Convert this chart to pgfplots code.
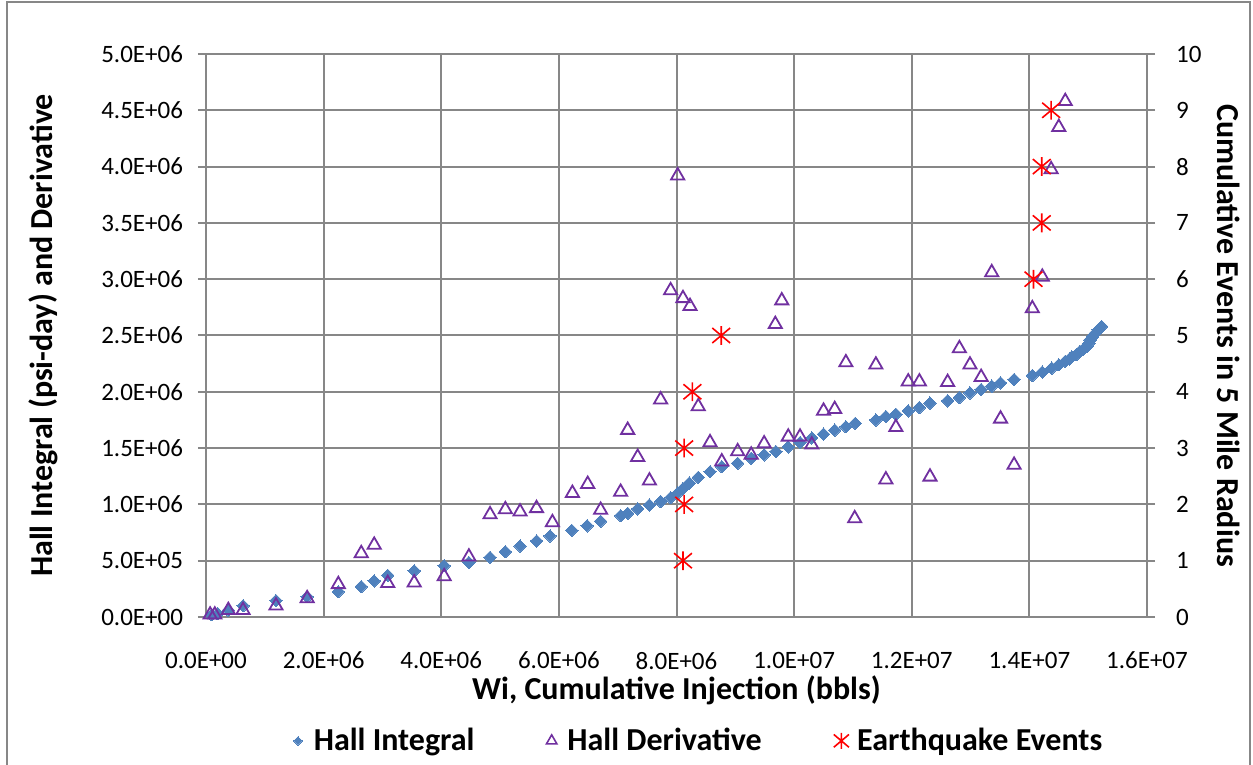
\documentclass[border=0pt]{standalone}
\usepackage{pgfplots}
\pgfplotsset{compat=1.18}
\usepackage{pgfplotstable}
\usepackage{fontspec}
\setmainfont{Carlito}
\definecolor{hallblue}{HTML}{4F81BD}
\definecolor{hallpurple}{HTML}{7030A0}
\definecolor{gridgray}{HTML}{878787}
\definecolor{eqred}{HTML}{FF0000}

\pgfdeclareplotmark{xstar}{%
  \pgfpathmoveto{\pgfqpoint{0pt}{\pgfplotmarksize}}%
  \pgfpathlineto{\pgfqpoint{0pt}{-\pgfplotmarksize}}%
  \pgfpathmoveto{\pgfqpoint{-.95\pgfplotmarksize}{.8\pgfplotmarksize}}%
  \pgfpathlineto{\pgfqpoint{.95\pgfplotmarksize}{-.8\pgfplotmarksize}}%
  \pgfpathmoveto{\pgfqpoint{-.95\pgfplotmarksize}{-.8\pgfplotmarksize}}%
  \pgfpathlineto{\pgfqpoint{.95\pgfplotmarksize}{.8\pgfplotmarksize}}%
  \pgfusepathqstroke
}

\pgfplotstableread{
x y
0.10e6 0.02e6
0.20e6 0.03e6
0.38e6 0.06e6
0.63e6 0.10e6
1.19e6 0.145e6
1.72e6 0.18e6
2.25e6 0.225e6
2.64e6 0.27e6
2.86e6 0.32e6
3.09e6 0.37e6
3.54e6 0.41e6
4.05e6 0.455e6
4.47e6 0.485e6
4.83e6 0.53e6
5.09e6 0.58e6
5.34e6 0.63e6
5.62e6 0.675e6
5.85e6 0.72e6
6.22e6 0.77e6
6.48e6 0.81e6
6.71e6 0.85e6
7.05e6 0.90e6
7.17e6 0.92e6
7.34e6 0.96e6
7.54e6 0.995e6
7.73e6 1.025e6
7.90e6 1.06e6
8.02e6 1.10e6
8.11e6 1.14e6
8.22e6 1.19e6
8.37e6 1.24e6
8.57e6 1.29e6
8.77e6 1.335e6
9.04e6 1.365e6
9.27e6 1.41e6
9.49e6 1.44e6
9.69e6 1.47e6
9.90e6 1.51e6
10.10e6 1.55e6
10.30e6 1.59e6
10.50e6 1.625e6
10.69e6 1.66e6
10.88e6 1.69e6
11.04e6 1.72e6
11.39e6 1.75e6
11.56e6 1.78e6
11.73e6 1.80e6
11.94e6 1.83e6
12.13e6 1.86e6
12.31e6 1.90e6
12.61e6 1.92e6
12.81e6 1.95e6
12.99e6 1.99e6
13.18e6 2.02e6
13.36e6 2.05e6
13.51e6 2.08e6
13.74e6 2.11e6
14.05e6 2.145e6
14.22e6 2.175e6
14.38e6 2.21e6
14.50e6 2.24e6
14.61e6 2.27e6
14.68e6 2.29e6
14.72e6 2.31e6
14.80e6 2.33e6
14.86e6 2.36e6
14.92e6 2.38e6
14.98e6 2.40e6
15.01e6 2.43e6
15.03e6 2.46e6
15.07e6 2.49e6
15.12e6 2.52e6
15.17e6 2.55e6
15.23e6 2.58e6
}\hallint

\pgfplotstableread{
x y
0.07e6 0.02e6
0.15e6 0.02e6
0.38e6 0.06e6
0.63e6 0.06e6
1.19e6 0.10e6
1.72e6 0.165e6
2.25e6 0.29e6
2.64e6 0.565e6
2.86e6 0.64e6
3.09e6 0.30e6
3.54e6 0.305e6
4.05e6 0.36e6
4.47e6 0.535e6
4.83e6 0.91e6
5.09e6 0.955e6
5.34e6 0.935e6
5.62e6 0.965e6
5.89e6 0.84e6
6.23e6 1.10e6
6.49e6 1.18e6
6.71e6 0.95e6
7.05e6 1.11e6
7.17e6 1.66e6
7.34e6 1.42e6
7.54e6 1.21e6
7.73e6 1.93e6
7.90e6 2.90e6
8.02e6 3.92e6
8.11e6 2.83e6
8.23e6 2.76e6
8.37e6 1.87e6
8.57e6 1.55e6
8.77e6 1.38e6
9.04e6 1.47e6
9.27e6 1.44e6
9.49e6 1.54e6
9.68e6 2.60e6
9.79e6 2.81e6
9.90e6 1.60e6
10.10e6 1.60e6
10.30e6 1.53e6
10.50e6 1.83e6
10.69e6 1.845e6
10.88e6 2.26e6
11.03e6 0.875e6
11.39e6 2.24e6
11.56e6 1.22e6
11.73e6 1.685e6
11.94e6 2.09e6
12.13e6 2.09e6
12.31e6 1.245e6
12.61e6 2.085e6
12.81e6 2.385e6
12.99e6 2.24e6
13.18e6 2.13e6
13.36e6 3.06e6
13.51e6 1.76e6
13.74e6 1.35e6
14.05e6 2.74e6
14.22e6 3.02e6
14.37e6 3.975e6
14.50e6 4.35e6
14.61e6 4.58e6
}\hallder

\pgfplotstableread{
x y
8.11e6 1
8.13e6 2
8.13e6 3
8.27e6 4
8.76e6 5
14.07e6 6
14.21e6 7
14.21e6 8
14.37e6 9
}\quakes

\begin{document}
\begin{tikzpicture}
\useasboundingbox (0,0) rectangle (626.5pt,382.5pt);
\draw[gridgray, line width=1pt] (3.5pt,-5pt) -- (3.5pt,381.5pt) -- (625pt,381.5pt) -- (625pt,-5pt);
\begin{axis}[
  at={(103pt,74pt)}, anchor=south west,
  scale only axis, width=470.5pt, height=281.5pt,
  xmin=0, xmax=1.6e7, ymin=0, ymax=5e6,
  xtick={0,2e6,4e6,6e6,8e6,10e6,12e6,14e6,16e6},
  xticklabels={0.0E+00,2.0E+06,4.0E+06,6.0E+06,8.0E+06,1.0E+07,1.2E+07,1.4E+07,1.6E+07},
  ytick={0,0.5e6,1e6,1.5e6,2e6,2.5e6,3e6,3.5e6,4e6,4.5e6,5e6},
  yticklabels={0.0E+00,5.0E+05,1.0E+06,1.5E+06,2.0E+06,2.5E+06,3.0E+06,3.5E+06,4.0E+06,4.5E+06,5.0E+06},
  scaled ticks=false,
  xtick pos=bottom, ytick pos=left,
  grid=major, grid style={line width=1pt, gridgray},
  axis line style={line width=1pt, gridgray},
  xtick style={draw=none},
  ytick style={line width=1pt, gridgray},
  tick align=outside, major tick length=4pt,
  yticklabel style={font=\fontsize{12.5}{14}\selectfont, xshift=-4pt},
  xticklabel style={font=\fontsize{12.5}{14}\selectfont, yshift=-10pt},
  label style={font=\bfseries\fontsize{16}{18}\selectfont},
  xlabel={Wi, Cumulative Injection (bbls)},
  ylabel={Hall Integral (psi-day) and Derivative},
  xlabel style={at={(axis description cs:0.5,-0.1297)}, anchor=center},
  ylabel style={at={(axis description cs:-0.173,0.5)}, anchor=center},
  legend columns=3,
  legend style={at={(axis description cs:0.525,-0.22)}, anchor=center, draw=none, fill=none,
    font=\bfseries\fontsize{16}{18}\selectfont,
    /tikz/every even column/.append style={column sep=34pt}},
  legend image code/.code={\path (0cm,0cm) (0.2cm,0cm); \draw[#1] plot coordinates {(0cm,0cm)};},
]
\addplot[forget plot, only marks, mark=square*, mark size=2.2pt, mark options={rotate=45, fill=hallblue, draw=hallblue, line width=0pt}] table {\hallint};
\addplot[forget plot, only marks, mark=triangle, mark size=3.8pt, mark options={draw=hallpurple, line width=0.9pt}] table {\hallder};
\addlegendimage{only marks, mark=square*, mark size=1.5pt, mark options={rotate=45, fill=hallblue, draw=hallblue, line width=0pt}}
\addlegendentry{Hall Integral}
\addlegendimage{only marks, mark=triangle, mark size=3pt, mark options={draw=hallpurple, line width=0.8pt}}
\addlegendentry{Hall Derivative}
\addlegendimage{only marks, mark=xstar, mark size=4pt, mark options={draw=eqred, line width=0.8pt}}
\addlegendentry{Earthquake Events}
\end{axis}
\begin{axis}[
  at={(103pt,74pt)}, anchor=south west,
  scale only axis, width=470.5pt, height=281.5pt,
  xmin=0, xmax=1.6e7, ymin=0, ymax=10,
  axis x line=none, axis y line*=right,
  ytick={0,1,2,3,4,5,6,7,8,9,10},
  yticklabels={0,1,2,3,4,5,6,7,8,9,10},
  axis line style={line width=1pt, gridgray, -},
  ytick style={line width=1pt, gridgray},
  tick align=outside, major tick length=4pt,
  yticklabel style={font=\fontsize{12.5}{14}\selectfont, xshift=7pt},
  label style={font=\bfseries\fontsize{16}{18}\selectfont},
  ylabel={Cumulative Events in 5 Mile Radius},
  ylabel style={at={(axis description cs:1.087,0.5)}, anchor=center, rotate=180},
]
\addplot[only marks, mark=xstar, mark size=4.7pt, mark options={draw=eqred, line width=0.8pt}] table {\quakes};
\end{axis}
\end{tikzpicture}
\end{document}
